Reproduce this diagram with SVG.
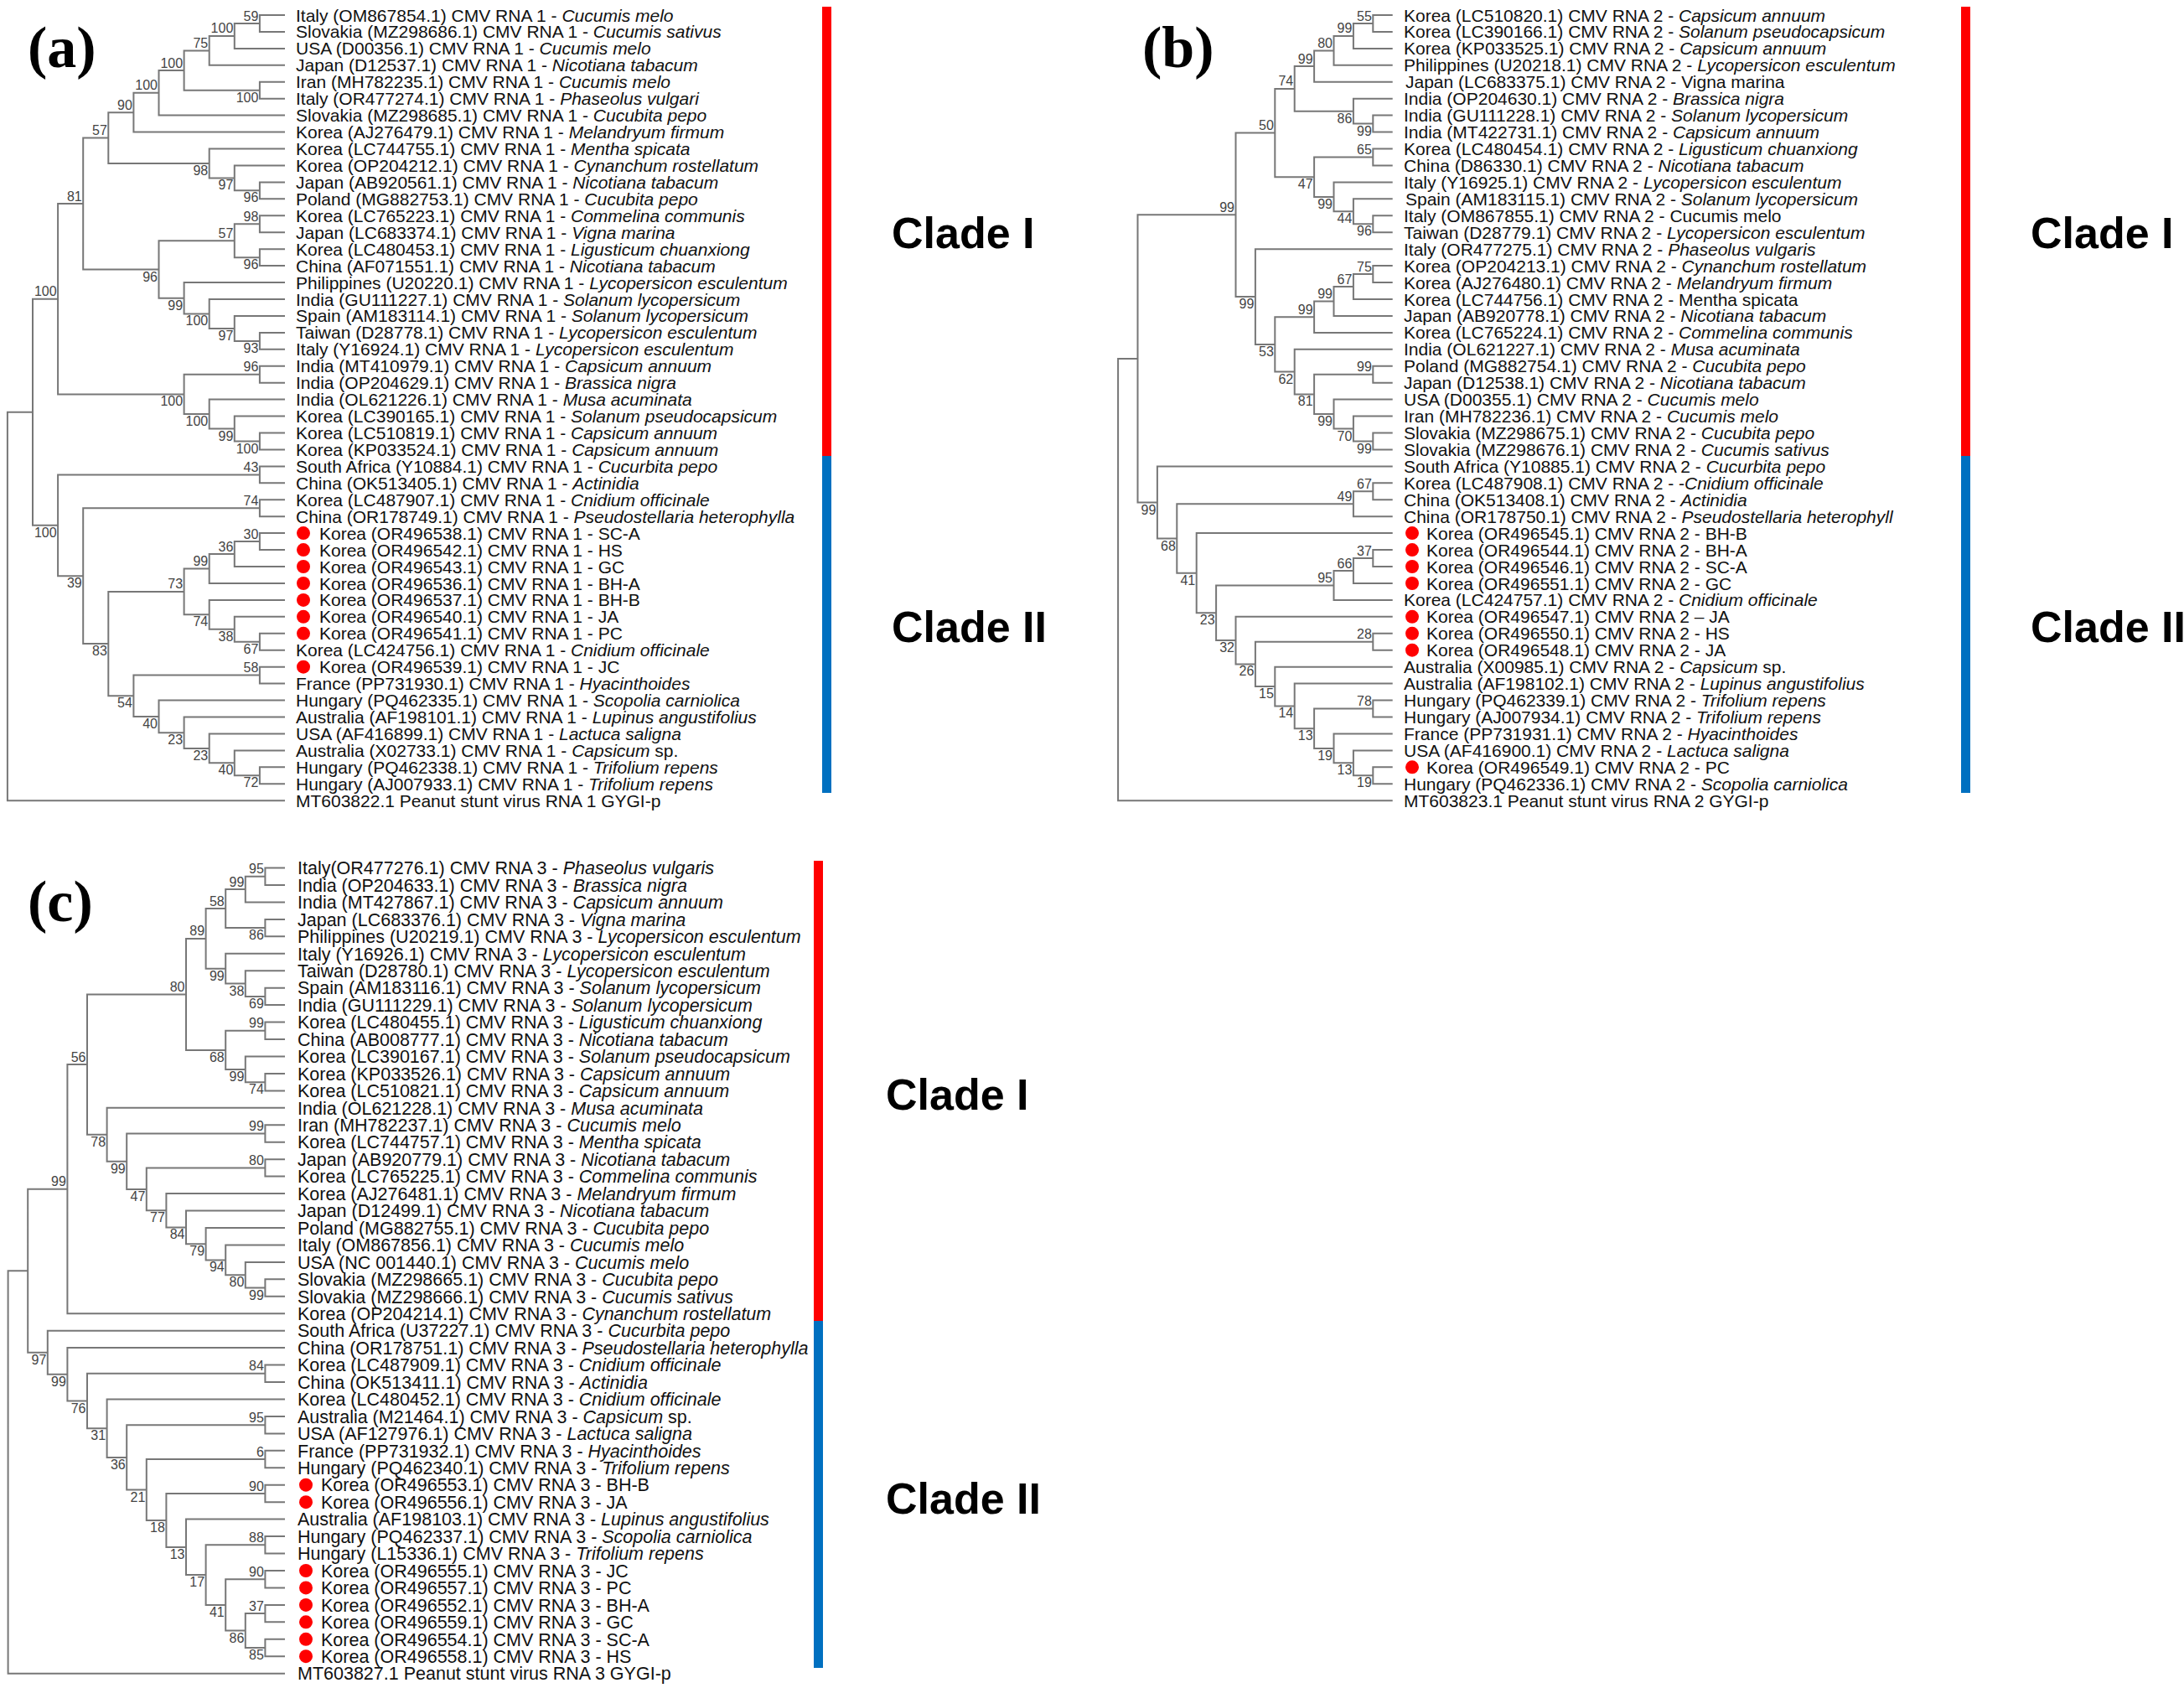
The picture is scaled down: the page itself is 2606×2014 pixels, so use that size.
<svg xmlns="http://www.w3.org/2000/svg" width="2606" height="2014" viewBox="0 0 2606 2014">
<style>
text{font-family:"Liberation Sans",Arial,sans-serif;fill:#111}
.t{font-size:21px}
.tc{font-size:21.5px}
.i{font-style:italic}
.bs{font-size:16px;fill:#444;text-anchor:end}
.pl{font-family:"Liberation Serif","Times New Roman",serif;font-weight:bold;font-size:70px;fill:#000}
.cl{font-weight:bold;font-size:52px;fill:#000}
.tree{fill:none;stroke:#777;stroke-width:2}
.dot{fill:#f00}
</style>
<rect width="2606" height="2014" fill="#fff"/>

<!-- panel labels -->
<text class="pl" x="33" y="80">(a)</text>
<text class="pl" x="1363" y="80">(b)</text>
<text class="pl" x="33" y="1099">(c)</text>

<!-- clade bars -->
<g id="bars">
<rect x="981" y="8" width="11" height="536" fill="#f00"/>
<rect x="981" y="544" width="11" height="402" fill="#0070c0"/>
<rect x="2340" y="8" width="11" height="536" fill="#f00"/>
<rect x="2340" y="544" width="11" height="402" fill="#0070c0"/>
<rect x="971" y="1027" width="11" height="549" fill="#f00"/>
<rect x="971" y="1576" width="11" height="414" fill="#0070c0"/>
</g>
<g id="clades">
<text class="cl" x="1064" y="296">Clade I</text>
<text class="cl" x="1064" y="766">Clade II</text>
<text class="cl" x="2423" y="296">Clade I</text>
<text class="cl" x="2423" y="766">Clade II</text>
<text class="cl" x="1057" y="1324">Clade I</text>
<text class="cl" x="1057" y="1806">Clade II</text>
</g>

<!-- connectors -->
<g id="connectors" class="tree">
<path id="tree-a" d="M340 18H309.9V37.9H340M309.9 28H279.8V57.9H340M279.8 42.9H249.7V77.8H340M340 97.8H309.9V117.7H340M249.7 60.4H219.6V107.7H309.9M219.6 84H189.5V137.6H340M189.5 110.8H159.4V157.6H340M340 217.4H309.9V237.3H340M340 197.5H279.8V227.3H309.9M340 177.5H249.7V212.4H279.8M159.4 134.2H129.3V195H249.7M340 257.3H309.9V277.2H340M340 297.2H309.9V317.1H340M309.9 267.3H279.8V307.2H309.9M340 396.9H309.9V416.8H340M340 376.9H279.8V406.9H309.9M340 357H249.7V391.9H279.8M340 337H219.6V374.4H249.7M279.8 287.2H189.5V355.7H219.6M129.3 164.6H99.2V321.5H189.5M340 436.7H309.9V456.7H340M340 516.5H309.9V536.4H340M340 496.6H279.8V526.5H309.9M340 476.6H249.7V511.5H279.8M309.9 446.7H219.6V494.1H249.7M99.2 243H69.1V470.4H219.6M340 556.4H309.9V576.3H340M340 596.3H309.9V616.2H340M340 636.1H309.9V656.1H340M309.9 646.1H279.8V676H340M279.8 661.1H249.7V696H340M340 755.8H309.9V775.7H340M340 735.8H279.8V765.8H309.9M340 715.9H249.7V750.8H279.8M249.7 678.5H219.6V733.3H249.7M340 795.7H309.9V815.6H340M340 915.3H309.9V935.2H340M340 895.4H279.8V925.2H309.9M340 875.4H249.7V910.3H279.8M340 855.5H219.6V892.9H249.7M340 835.5H189.5V874.2H219.6M309.9 805.6H159.4V854.9H189.5M219.6 705.9H129.3V830.3H159.4M309.9 606.3H99.2V768.1H129.3M309.9 566.4H69.1V687.2H99.2M69.1 356.7H39V626.8H69.1M39 491.8H8.9V955.2H340"/>
<path id="tree-b" d="M1661.7 18H1638.3V37.9H1661.7M1638.3 28H1614.9V57.9H1661.7M1614.9 42.9H1591.5V77.8H1661.7M1591.5 60.4H1568.1V97.8H1661.7M1661.7 137.6H1638.3V157.6H1661.7M1661.7 117.7H1614.9V147.6H1638.3M1568.1 79.1H1544.7V132.7H1614.9M1661.7 177.5H1638.3V197.5H1661.7M1661.7 257.3H1638.3V277.2H1661.7M1661.7 237.3H1614.9V267.3H1638.3M1661.7 217.4H1591.5V252.3H1614.9M1638.3 187.5H1568.1V234.9H1591.5M1544.7 105.9H1521.3V211.2H1568.1M1661.7 317.1H1638.3V337H1661.7M1638.3 327.1H1614.9V357H1661.7M1614.9 342H1591.5V376.9H1661.7M1591.5 359.5H1568.1V396.9H1661.7M1661.7 436.7H1638.3V456.7H1661.7M1661.7 516.5H1638.3V536.4H1661.7M1661.7 496.6H1614.9V526.5H1638.3M1661.7 476.6H1591.5V511.5H1614.9M1638.3 446.7H1568.1V494.1H1591.5M1661.7 416.8H1544.7V470.4H1568.1M1568.1 378.2H1521.3V443.6H1544.7M1661.7 297.2H1497.9V410.9H1521.3M1521.3 158.6H1474.5V354.1H1497.9M1661.7 576.3H1638.3V596.3H1661.7M1638.3 586.3H1614.9V616.2H1661.7M1661.7 656.1H1638.3V676H1661.7M1638.3 666.1H1614.9V696H1661.7M1614.9 681H1591.5V715.9H1661.7M1661.7 755.8H1638.3V775.7H1661.7M1661.7 835.5H1638.3V855.5H1661.7M1661.7 915.3H1638.3V935.2H1661.7M1661.7 895.4H1614.9V925.3H1638.3M1661.7 875.4H1591.5V910.3H1614.9M1638.3 845.5H1568.1V892.9H1591.5M1661.7 815.6H1544.7V869.2H1568.1M1661.7 795.7H1521.3V842.4H1544.7M1638.3 765.8H1497.9V819H1521.3M1661.7 735.8H1474.5V792.4H1497.9M1591.5 698.5H1451.1V764.1H1474.5M1661.7 636.1H1427.7V731.3H1451.1M1614.9 601.3H1404.3V683.7H1427.7M1661.7 556.4H1380.9V642.5H1404.3M1474.5 256.3H1357.5V599.5H1380.9M1357.5 427.9H1334.1V955.2H1661.7"/>
<path id="tree-c" d="M340 1035.5H316.4V1056H340M316.4 1045.75H292.8V1076.4H340M340 1096.9H316.4V1117.3H340M292.8 1061.1H269.2V1107.1H316.4M340 1178.7H316.4V1199.1H340M340 1158.2H292.8V1188.9H316.4M340 1137.8H269.2V1173.6H292.8M269.2 1084.1H245.6V1155.7H269.2M340 1219.6H316.4V1240H340M340 1280.9H316.4V1301.4H340M340 1260.5H292.8V1291.2H316.4M316.4 1229.8H269.2V1275.9H292.8M245.6 1119.9H222V1252.9H269.2M340 1342.3H316.4V1362.7H340M340 1383.2H316.4V1403.6H340M340 1526.3H316.4V1546.8H340M340 1505.9H292.8V1536.6H316.4M340 1485.4H269.2V1521.3H292.8M340 1465H245.6V1503.4H269.2M340 1444.5H222V1484.2H245.6M340 1424.1H198.4V1464.4H222M316.4 1393.4H174.8V1444.3H198.4M316.4 1352.5H151.2V1418.9H174.8M340 1321.8H127.6V1385.7H151.2M222 1186.4H104V1353.8H127.6M104 1270.1H80.4V1567.2H340M340 1628.6H316.4V1649H340M340 1689.9H316.4V1710.4H340M340 1730.8H316.4V1751.3H340M340 1771.7H316.4V1792.2H340M340 1833.1H316.4V1853.5H340M340 1874H316.4V1894.4H340M340 1914.9H316.4V1935.3H340M340 1955.8H316.4V1976.2H340M316.4 1925.1H292.8V1966H316.4M316.4 1884.2H269.2V1945.6H292.8M316.4 1843.3H245.6V1914.9H269.2M340 1812.6H222V1879.1H245.6M316.4 1782H198.4V1845.9H222M316.4 1741.1H174.8V1814H198.4M316.4 1700.2H151.2V1777.6H174.8M340 1669.5H127.6V1738.9H151.2M316.4 1638.8H104V1704.2H127.6M340 1608.1H80.4V1671.5H104M340 1587.7H56.8V1639.8H80.4M80.4 1418.7H33.2V1613.8H56.8M33.2 1516.3H9.6V1996.7H340"/>
</g>

<!-- bootstrap values -->
<g id="bootstrap-a">
<text class="bs" x="308.4" y="24.5">59</text>
<text class="bs" x="278.3" y="39.4">100</text>
<text class="bs" x="248.2" y="56.9">75</text>
<text class="bs" x="308.4" y="121.7">100</text>
<text class="bs" x="218.1" y="80.5">100</text>
<text class="bs" x="188" y="107.3">100</text>
<text class="bs" x="157.9" y="130.7">90</text>
<text class="bs" x="308.4" y="241.3">96</text>
<text class="bs" x="278.3" y="226.4">97</text>
<text class="bs" x="248.2" y="209">98</text>
<text class="bs" x="127.8" y="161.1">57</text>
<text class="bs" x="308.4" y="263.8">98</text>
<text class="bs" x="308.4" y="321.2">96</text>
<text class="bs" x="278.3" y="283.7">57</text>
<text class="bs" x="308.4" y="420.9">93</text>
<text class="bs" x="278.3" y="405.9">97</text>
<text class="bs" x="248.2" y="388.4">100</text>
<text class="bs" x="218.1" y="369.7">99</text>
<text class="bs" x="188" y="335.5">96</text>
<text class="bs" x="97.7" y="239.5">81</text>
<text class="bs" x="308.4" y="443.2">96</text>
<text class="bs" x="308.4" y="540.5">100</text>
<text class="bs" x="278.3" y="525.5">99</text>
<text class="bs" x="248.2" y="508.1">100</text>
<text class="bs" x="218.1" y="484.4">100</text>
<text class="bs" x="67.6" y="353.2">100</text>
<text class="bs" x="308.4" y="562.9">43</text>
<text class="bs" x="308.4" y="602.8">74</text>
<text class="bs" x="308.4" y="642.6">30</text>
<text class="bs" x="278.3" y="657.6">36</text>
<text class="bs" x="248.2" y="675">99</text>
<text class="bs" x="308.4" y="779.8">67</text>
<text class="bs" x="278.3" y="764.8">38</text>
<text class="bs" x="248.2" y="747.3">74</text>
<text class="bs" x="218.1" y="702.4">73</text>
<text class="bs" x="308.4" y="802.1">58</text>
<text class="bs" x="308.4" y="939.2">72</text>
<text class="bs" x="278.3" y="924.3">40</text>
<text class="bs" x="248.2" y="906.9">23</text>
<text class="bs" x="218.1" y="888.2">23</text>
<text class="bs" x="188" y="868.9">40</text>
<text class="bs" x="157.9" y="844.3">54</text>
<text class="bs" x="127.8" y="782.1">83</text>
<text class="bs" x="97.7" y="701.2">39</text>
<text class="bs" x="67.6" y="640.8">100</text>
</g>
<g id="bootstrap-b">
<text class="bs" x="1636.8" y="24.5">55</text>
<text class="bs" x="1613.4" y="39.4">99</text>
<text class="bs" x="1590" y="56.9">80</text>
<text class="bs" x="1566.6" y="75.6">99</text>
<text class="bs" x="1636.8" y="161.6">99</text>
<text class="bs" x="1613.4" y="146.7">86</text>
<text class="bs" x="1543.2" y="102.4">74</text>
<text class="bs" x="1636.8" y="184">65</text>
<text class="bs" x="1636.8" y="281.3">96</text>
<text class="bs" x="1613.4" y="266.3">44</text>
<text class="bs" x="1590" y="248.9">99</text>
<text class="bs" x="1566.6" y="225.2">47</text>
<text class="bs" x="1519.8" y="155.1">50</text>
<text class="bs" x="1636.8" y="323.6">75</text>
<text class="bs" x="1613.4" y="338.5">67</text>
<text class="bs" x="1590" y="356">99</text>
<text class="bs" x="1566.6" y="374.7">99</text>
<text class="bs" x="1636.8" y="443.2">99</text>
<text class="bs" x="1636.8" y="540.5">99</text>
<text class="bs" x="1613.4" y="525.5">70</text>
<text class="bs" x="1590" y="508.1">99</text>
<text class="bs" x="1566.6" y="484.4">81</text>
<text class="bs" x="1543.2" y="457.6">62</text>
<text class="bs" x="1519.8" y="424.9">53</text>
<text class="bs" x="1496.4" y="368.1">99</text>
<text class="bs" x="1473" y="252.8">99</text>
<text class="bs" x="1636.8" y="582.8">67</text>
<text class="bs" x="1613.4" y="597.8">49</text>
<text class="bs" x="1636.8" y="662.6">37</text>
<text class="bs" x="1613.4" y="677.5">66</text>
<text class="bs" x="1590" y="695">95</text>
<text class="bs" x="1636.8" y="762.3">28</text>
<text class="bs" x="1636.8" y="842">78</text>
<text class="bs" x="1636.8" y="939.3">19</text>
<text class="bs" x="1613.4" y="924.3">13</text>
<text class="bs" x="1590" y="906.9">19</text>
<text class="bs" x="1566.6" y="883.2">13</text>
<text class="bs" x="1543.2" y="856.4">14</text>
<text class="bs" x="1519.8" y="833">15</text>
<text class="bs" x="1496.4" y="806.4">26</text>
<text class="bs" x="1473" y="778.1">32</text>
<text class="bs" x="1449.6" y="745.3">23</text>
<text class="bs" x="1426.2" y="697.7">41</text>
<text class="bs" x="1402.8" y="656.5">68</text>
<text class="bs" x="1379.4" y="613.5">99</text>
</g>
<g id="bootstrap-c">
<text class="bs" x="314.9" y="1042.3">95</text>
<text class="bs" x="291.3" y="1057.6">99</text>
<text class="bs" x="314.9" y="1121.1">86</text>
<text class="bs" x="267.7" y="1080.6">58</text>
<text class="bs" x="314.9" y="1202.9">69</text>
<text class="bs" x="291.3" y="1187.6">38</text>
<text class="bs" x="267.7" y="1169.7">99</text>
<text class="bs" x="244.1" y="1116.4">89</text>
<text class="bs" x="314.9" y="1226.3">99</text>
<text class="bs" x="314.9" y="1305.2">74</text>
<text class="bs" x="291.3" y="1289.9">99</text>
<text class="bs" x="267.7" y="1266.9">68</text>
<text class="bs" x="220.5" y="1182.9">80</text>
<text class="bs" x="314.9" y="1349">99</text>
<text class="bs" x="314.9" y="1389.9">80</text>
<text class="bs" x="314.9" y="1550.6">99</text>
<text class="bs" x="291.3" y="1535.3">80</text>
<text class="bs" x="267.7" y="1517.4">94</text>
<text class="bs" x="244.1" y="1498.2">79</text>
<text class="bs" x="220.5" y="1478.4">84</text>
<text class="bs" x="196.9" y="1458.3">77</text>
<text class="bs" x="173.3" y="1432.9">47</text>
<text class="bs" x="149.7" y="1399.7">99</text>
<text class="bs" x="126.1" y="1367.8">78</text>
<text class="bs" x="102.5" y="1266.6">56</text>
<text class="bs" x="78.9" y="1415.2">99</text>
<text class="bs" x="314.9" y="1635.3">84</text>
<text class="bs" x="314.9" y="1696.7">95</text>
<text class="bs" x="314.9" y="1737.6">6</text>
<text class="bs" x="314.9" y="1778.5">90</text>
<text class="bs" x="314.9" y="1839.8">88</text>
<text class="bs" x="314.9" y="1880.7">90</text>
<text class="bs" x="314.9" y="1921.6">37</text>
<text class="bs" x="314.9" y="1980">85</text>
<text class="bs" x="291.3" y="1959.6">86</text>
<text class="bs" x="267.7" y="1928.9">41</text>
<text class="bs" x="244.1" y="1893.1">17</text>
<text class="bs" x="220.5" y="1859.9">13</text>
<text class="bs" x="196.9" y="1828">18</text>
<text class="bs" x="173.3" y="1791.6">21</text>
<text class="bs" x="149.7" y="1752.9">36</text>
<text class="bs" x="126.1" y="1718.2">31</text>
<text class="bs" x="102.5" y="1685.5">76</text>
<text class="bs" x="78.9" y="1653.8">99</text>
<text class="bs" x="55.3" y="1627.8">97</text>
</g>

<!-- panel (a) leaves -->
<g class="t">
<g id="a01"><text class="t" x="353" y="25.5">Italy (OM867854.1) CMV RNA 1 - <tspan class="i">Cucumis melo</tspan></text></g>
<g id="a02"><text class="t" x="353" y="45.4">Slovakia (MZ298686.1) CMV RNA 1 - <tspan class="i">Cucumis sativus</tspan></text></g>
<g id="a03"><text class="t" x="353" y="65.4">USA (D00356.1) CMV RNA 1 - <tspan class="i">Cucumis melo</tspan></text></g>
<g id="a04"><text class="t" x="353" y="85.3">Japan (D12537.1) CMV RNA 1 - <tspan class="i">Nicotiana tabacum</tspan></text></g>
<g id="a05"><text class="t" x="353" y="105.3">Iran (MH782235.1) CMV RNA 1 - <tspan class="i">Cucumis melo</tspan></text></g>
<g id="a06"><text class="t" x="353" y="125.2">Italy (OR477274.1) CMV RNA 1 - <tspan class="i">Phaseolus vulgari</tspan></text></g>
<g id="a07"><text class="t" x="353" y="145.1">Slovakia (MZ298685.1) CMV RNA 1 - <tspan class="i">Cucubita pepo</tspan></text></g>
<g id="a08"><text class="t" x="353" y="165.1">Korea (AJ276479.1) CMV RNA 1 - <tspan class="i">Melandryum firmum</tspan></text></g>
<g id="a09"><text class="t" x="353" y="185">Korea (LC744755.1) CMV RNA 1 - <tspan class="i">Mentha spicata</tspan></text></g>
<g id="a10"><text class="t" x="353" y="205">Korea (OP204212.1) CMV RNA 1 - <tspan class="i">Cynanchum rostellatum</tspan></text></g>
<g id="a11"><text class="t" x="353" y="224.9">Japan (AB920561.1) CMV RNA 1 - <tspan class="i">Nicotiana tabacum</tspan></text></g>
<g id="a12"><text class="t" x="353" y="244.8">Poland (MG882753.1) CMV RNA 1 - <tspan class="i">Cucubita pepo</tspan></text></g>
<g id="a13"><text class="t" x="353" y="264.8">Korea (LC765223.1) CMV RNA 1 - <tspan class="i">Commelina communis</tspan></text></g>
<g id="a14"><text class="t" x="353" y="284.7">Japan (LC683374.1) CMV RNA 1 - <tspan class="i">Vigna marina</tspan></text></g>
<g id="a15"><text class="t" x="353" y="304.7">Korea (LC480453.1) CMV RNA 1 - <tspan class="i">Ligusticum chuanxiong</tspan></text></g>
<g id="a16"><text class="t" x="353" y="324.6">China (AF071551.1) CMV RNA 1 - <tspan class="i">Nicotiana tabacum</tspan></text></g>
<g id="a17"><text class="t" x="353" y="344.5">Philippines (U20220.1) CMV RNA 1 - <tspan class="i">Lycopersicon esculentum</tspan></text></g>
<g id="a18"><text class="t" x="353" y="364.5">India (GU111227.1) CMV RNA 1 - <tspan class="i">Solanum lycopersicum</tspan></text></g>
<g id="a19"><text class="t" x="353" y="384.4">Spain (AM183114.1) CMV RNA 1 - <tspan class="i">Solanum lycopersicum</tspan></text></g>
<g id="a20"><text class="t" x="353" y="404.4">Taiwan (D28778.1) CMV RNA 1 - <tspan class="i">Lycopersicon esculentum</tspan></text></g>
<g id="a21"><text class="t" x="353" y="424.3">Italy (Y16924.1) CMV RNA 1 - <tspan class="i">Lycopersicon esculentum</tspan></text></g>
<g id="a22"><text class="t" x="353" y="444.2">India (MT410979.1) CMV RNA 1 - <tspan class="i">Capsicum annuum</tspan></text></g>
<g id="a23"><text class="t" x="353" y="464.2">India (OP204629.1) CMV RNA 1 - <tspan class="i">Brassica nigra</tspan></text></g>
<g id="a24"><text class="t" x="353" y="484.1">India (OL621226.1) CMV RNA 1 - <tspan class="i">Musa acuminata</tspan></text></g>
<g id="a25"><text class="t" x="353" y="504.1">Korea (LC390165.1) CMV RNA 1 - <tspan class="i">Solanum pseudocapsicum</tspan></text></g>
<g id="a26"><text class="t" x="353" y="524">Korea (LC510819.1) CMV RNA 1 - <tspan class="i">Capsicum annuum</tspan></text></g>
<g id="a27"><text class="t" x="353" y="543.9">Korea (KP033524.1) CMV RNA 1 - <tspan class="i">Capsicum annuum</tspan></text></g>
<g id="a28"><text class="t" x="353" y="563.9">South Africa (Y10884.1) CMV RNA 1 - <tspan class="i">Cucurbita pepo</tspan></text></g>
<g id="a29"><text class="t" x="353" y="583.8">China (OK513405.1) CMV RNA 1 - <tspan class="i">Actinidia</tspan></text></g>
<g id="a30"><text class="t" x="353" y="603.8">Korea (LC487907.1) CMV RNA 1 - <tspan class="i">Cnidium officinale</tspan></text></g>
<g id="a31"><text class="t" x="353" y="623.7">China (OR178749.1) CMV RNA 1 - <tspan class="i">Pseudostellaria heterophylla</tspan></text></g>
<g id="a32"><circle class="dot" cx="362" cy="636.1" r="8"/><text class="t" x="381" y="643.6">Korea (OR496538.1) CMV RNA 1 - SC-A</text></g>
<g id="a33"><circle class="dot" cx="362" cy="656.1" r="8"/><text class="t" x="381" y="663.6">Korea (OR496542.1) CMV RNA 1 - HS</text></g>
<g id="a34"><circle class="dot" cx="362" cy="676" r="8"/><text class="t" x="381" y="683.5">Korea (OR496543.1) CMV RNA 1 - GC</text></g>
<g id="a35"><circle class="dot" cx="362" cy="696" r="8"/><text class="t" x="381" y="703.5">Korea (OR496536.1) CMV RNA 1 - BH-A</text></g>
<g id="a36"><circle class="dot" cx="362" cy="715.9" r="8"/><text class="t" x="381" y="723.4">Korea (OR496537.1) CMV RNA 1 - BH-B</text></g>
<g id="a37"><circle class="dot" cx="362" cy="735.8" r="8"/><text class="t" x="381" y="743.3">Korea (OR496540.1) CMV RNA 1 - JA</text></g>
<g id="a38"><circle class="dot" cx="362" cy="755.8" r="8"/><text class="t" x="381" y="763.3">Korea (OR496541.1) CMV RNA 1 - PC</text></g>
<g id="a39"><text class="t" x="353" y="783.2">Korea (LC424756.1) CMV RNA 1 - <tspan class="i">Cnidium officinale</tspan></text></g>
<g id="a40"><circle class="dot" cx="362" cy="795.7" r="8"/><text class="t" x="381" y="803.2">Korea (OR496539.1) CMV RNA 1 - JC</text></g>
<g id="a41"><text class="t" x="353" y="823.1">France (PP731930.1) CMV RNA 1 - <tspan class="i">Hyacinthoides</tspan></text></g>
<g id="a42"><text class="t" x="353" y="843">Hungary (PQ462335.1) CMV RNA 1 - <tspan class="i">Scopolia carniolica</tspan></text></g>
<g id="a43"><text class="t" x="353" y="863">Australia (AF198101.1) CMV RNA 1 - <tspan class="i">Lupinus angustifolius</tspan></text></g>
<g id="a44"><text class="t" x="353" y="882.9">USA (AF416899.1) CMV RNA 1 - <tspan class="i">Lactuca saligna</tspan></text></g>
<g id="a45"><text class="t" x="353" y="902.9">Australia (X02733.1) CMV RNA 1 - <tspan class="i">Capsicum</tspan> sp.</text></g>
<g id="a46"><text class="t" x="353" y="922.8">Hungary (PQ462338.1) CMV RNA 1 - <tspan class="i">Trifolium repens</tspan></text></g>
<g id="a47"><text class="t" x="353" y="942.7">Hungary (AJ007933.1) CMV RNA 1 - <tspan class="i">Trifolium repens</tspan></text></g>
<g id="a48"><text class="t" x="353" y="962.7">MT603822.1 Peanut stunt virus RNA 1 GYGI-p</text></g>
</g>

<!-- panel (b) leaves -->
<g>
<g id="b01"><text class="t" x="1675" y="25.5">Korea (LC510820.1) CMV RNA 2 - <tspan class="i">Capsicum annuum</tspan></text></g>
<g id="b02"><text class="t" x="1675" y="45.4">Korea (LC390166.1) CMV RNA 2 - <tspan class="i">Solanum pseudocapsicum</tspan></text></g>
<g id="b03"><text class="t" x="1675" y="65.4">Korea (KP033525.1) CMV RNA 2 - <tspan class="i">Capsicum annuum</tspan></text></g>
<g id="b04"><text class="t" x="1675" y="85.3">Philippines (U20218.1) CMV RNA 2 - <tspan class="i">Lycopersicon esculentum</tspan></text></g>
<g id="b05"><text class="t" x="1677" y="105.3">Japan (LC683375.1) CMV RNA 2 - Vigna marina</text></g>
<g id="b06"><text class="t" x="1675" y="125.2">India (OP204630.1) CMV RNA 2 - <tspan class="i">Brassica nigra</tspan></text></g>
<g id="b07"><text class="t" x="1675" y="145.1">India (GU111228.1) CMV RNA 2 - <tspan class="i">Solanum lycopersicum</tspan></text></g>
<g id="b08"><text class="t" x="1675" y="165.1">India (MT422731.1) CMV RNA 2 - <tspan class="i">Capsicum annuum</tspan></text></g>
<g id="b09"><text class="t" x="1675" y="185">Korea (LC480454.1) CMV RNA 2 - <tspan class="i">Ligusticum chuanxiong</tspan></text></g>
<g id="b10"><text class="t" x="1675" y="205">China (D86330.1) CMV RNA 2 - <tspan class="i">Nicotiana tabacum</tspan></text></g>
<g id="b11"><text class="t" x="1675" y="224.9">Italy (Y16925.1) CMV RNA 2 - <tspan class="i">Lycopersicon esculentum</tspan></text></g>
<g id="b12"><text class="t" x="1677" y="244.8">Spain (AM183115.1) CMV RNA 2 - <tspan class="i">Solanum lycopersicum</tspan></text></g>
<g id="b13"><text class="t" x="1675" y="264.8">Italy (OM867855.1) CMV RNA 2 - Cucumis melo</text></g>
<g id="b14"><text class="t" x="1675" y="284.7">Taiwan (D28779.1) CMV RNA 2 - <tspan class="i">Lycopersicon esculentum</tspan></text></g>
<g id="b15"><text class="t" x="1675" y="304.7">Italy (OR477275.1) CMV RNA 2 - <tspan class="i">Phaseolus vulgaris</tspan></text></g>
<g id="b16"><text class="t" x="1675" y="324.6">Korea (OP204213.1) CMV RNA 2 - <tspan class="i">Cynanchum rostellatum</tspan></text></g>
<g id="b17"><text class="t" x="1675" y="344.5">Korea (AJ276480.1) CMV RNA 2 - <tspan class="i">Melandryum firmum</tspan></text></g>
<g id="b18"><text class="t" x="1675" y="364.5">Korea (LC744756.1) CMV RNA 2 - Mentha spicata</text></g>
<g id="b19"><text class="t" x="1675" y="384.4">Japan (AB920778.1) CMV RNA 2 - <tspan class="i">Nicotiana tabacum</tspan></text></g>
<g id="b20"><text class="t" x="1675" y="404.4">Korea (LC765224.1) CMV RNA 2 - <tspan class="i">Commelina communis</tspan></text></g>
<g id="b21"><text class="t" x="1675" y="424.3">India (OL621227.1) CMV RNA 2 - <tspan class="i">Musa acuminata</tspan></text></g>
<g id="b22"><text class="t" x="1675" y="444.2">Poland (MG882754.1) CMV RNA 2 - <tspan class="i">Cucubita pepo</tspan></text></g>
<g id="b23"><text class="t" x="1675" y="464.2">Japan (D12538.1) CMV RNA 2 - <tspan class="i">Nicotiana tabacum</tspan></text></g>
<g id="b24"><text class="t" x="1675" y="484.1">USA (D00355.1) CMV RNA 2 - <tspan class="i">Cucumis melo</tspan></text></g>
<g id="b25"><text class="t" x="1675" y="504.1">Iran (MH782236.1) CMV RNA 2 - <tspan class="i">Cucumis melo</tspan></text></g>
<g id="b26"><text class="t" x="1675" y="524">Slovakia (MZ298675.1) CMV RNA 2 - <tspan class="i">Cucubita pepo</tspan></text></g>
<g id="b27"><text class="t" x="1675" y="543.9">Slovakia (MZ298676.1) CMV RNA 2 - <tspan class="i">Cucumis sativus</tspan></text></g>
<g id="b28"><text class="t" x="1675" y="563.9">South Africa (Y10885.1) CMV RNA 2 - <tspan class="i">Cucurbita pepo</tspan></text></g>
<g id="b29"><text class="t" x="1675" y="583.8">Korea (LC487908.1) CMV RNA 2 - -<tspan class="i">Cnidium officinale</tspan></text></g>
<g id="b30"><text class="t" x="1675" y="603.8">China (OK513408.1) CMV RNA 2 - <tspan class="i">Actinidia</tspan></text></g>
<g id="b31"><text class="t" x="1675" y="623.7">China (OR178750.1) CMV RNA 2 - <tspan class="i">Pseudostellaria heterophyll</tspan></text></g>
<g id="b32"><circle class="dot" cx="1685" cy="636.1" r="8"/><text class="t" x="1702" y="643.6">Korea (OR496545.1) CMV RNA 2 - BH-B</text></g>
<g id="b33"><circle class="dot" cx="1685" cy="656.1" r="8"/><text class="t" x="1702" y="663.6">Korea (OR496544.1) CMV RNA 2 - BH-A</text></g>
<g id="b34"><circle class="dot" cx="1685" cy="676" r="8"/><text class="t" x="1702" y="683.5">Korea (OR496546.1) CMV RNA 2 - SC-A</text></g>
<g id="b35"><circle class="dot" cx="1685" cy="696" r="8"/><text class="t" x="1702" y="703.5">Korea (OR496551.1) CMV RNA 2 - GC</text></g>
<g id="b36"><text class="t" x="1675" y="723.4">Korea (LC424757.1) CMV RNA 2 - <tspan class="i">Cnidium officinale</tspan></text></g>
<g id="b37"><circle class="dot" cx="1685" cy="735.8" r="8"/><text class="t" x="1702" y="743.3">Korea (OR496547.1) CMV RNA 2 – JA</text></g>
<g id="b38"><circle class="dot" cx="1685" cy="755.8" r="8"/><text class="t" x="1702" y="763.3">Korea (OR496550.1) CMV RNA 2 - HS</text></g>
<g id="b39"><circle class="dot" cx="1685" cy="775.7" r="8"/><text class="t" x="1702" y="783.2">Korea (OR496548.1) CMV RNA 2 - JA</text></g>
<g id="b40"><text class="t" x="1675" y="803.2">Australia (X00985.1) CMV RNA 2 - <tspan class="i">Capsicum</tspan> sp.</text></g>
<g id="b41"><text class="t" x="1675" y="823.1">Australia (AF198102.1) CMV RNA 2 - <tspan class="i">Lupinus angustifolius</tspan></text></g>
<g id="b42"><text class="t" x="1675" y="843">Hungary (PQ462339.1) CMV RNA 2 - <tspan class="i">Trifolium repens</tspan></text></g>
<g id="b43"><text class="t" x="1675" y="863">Hungary (AJ007934.1) CMV RNA 2 - <tspan class="i">Trifolium repens</tspan></text></g>
<g id="b44"><text class="t" x="1675" y="882.9">France (PP731931.1) CMV RNA 2 - <tspan class="i">Hyacinthoides</tspan></text></g>
<g id="b45"><text class="t" x="1675" y="902.9">USA (AF416900.1) CMV RNA 2 - <tspan class="i">Lactuca saligna</tspan></text></g>
<g id="b46"><circle class="dot" cx="1685" cy="915.3" r="8"/><text class="t" x="1702" y="922.8">Korea (OR496549.1) CMV RNA 2 - PC</text></g>
<g id="b47"><text class="t" x="1675" y="942.7">Hungary (PQ462336.1) CMV RNA 2 - <tspan class="i">Scopolia carniolica</tspan></text></g>
<g id="b48"><text class="t" x="1675" y="962.7">MT603823.1 Peanut stunt virus RNA 2 GYGI-p</text></g>
</g>

<!-- panel (c) leaves -->
<g>
<g id="c01"><text class="tc" x="355" y="1043.2">Italy(OR477276.1) CMV RNA 3 - <tspan class="i">Phaseolus vulgaris</tspan></text></g>
<g id="c02"><text class="tc" x="355" y="1063.7">India (OP204633.1) CMV RNA 3 - <tspan class="i">Brassica nigra</tspan></text></g>
<g id="c03"><text class="tc" x="355" y="1084.1">India (MT427867.1) CMV RNA 3 - <tspan class="i">Capsicum annuum</tspan></text></g>
<g id="c04"><text class="tc" x="355" y="1104.6">Japan (LC683376.1) CMV RNA 3 - <tspan class="i">Vigna marina</tspan></text></g>
<g id="c05"><text class="tc" x="355" y="1125">Philippines (U20219.1) CMV RNA 3 - <tspan class="i">Lycopersicon esculentum</tspan></text></g>
<g id="c06"><text class="tc" x="355" y="1145.5">Italy (Y16926.1) CMV RNA 3 - <tspan class="i">Lycopersicon esculentum</tspan></text></g>
<g id="c07"><text class="tc" x="355" y="1165.9">Taiwan (D28780.1) CMV RNA 3 - <tspan class="i">Lycopersicon esculentum</tspan></text></g>
<g id="c08"><text class="tc" x="355" y="1186.4">Spain (AM183116.1) CMV RNA 3 - <tspan class="i">Solanum lycopersicum</tspan></text></g>
<g id="c09"><text class="tc" x="355" y="1206.8">India (GU111229.1) CMV RNA 3 - <tspan class="i">Solanum lycopersicum</tspan></text></g>
<g id="c10"><text class="tc" x="355" y="1227.3">Korea (LC480455.1) CMV RNA 3 - <tspan class="i">Ligusticum chuanxiong</tspan></text></g>
<g id="c11"><text class="tc" x="355" y="1247.7">China (AB008777.1) CMV RNA 3 - <tspan class="i">Nicotiana tabacum</tspan></text></g>
<g id="c12"><text class="tc" x="355" y="1268.2">Korea (LC390167.1) CMV RNA 3 - <tspan class="i">Solanum pseudocapsicum</tspan></text></g>
<g id="c13"><text class="tc" x="355" y="1288.6">Korea (KP033526.1) CMV RNA 3 - <tspan class="i">Capsicum annuum</tspan></text></g>
<g id="c14"><text class="tc" x="355" y="1309.1">Korea (LC510821.1) CMV RNA 3 - <tspan class="i">Capsicum annuum</tspan></text></g>
<g id="c15"><text class="tc" x="355" y="1329.5">India (OL621228.1) CMV RNA 3 - <tspan class="i">Musa acuminata</tspan></text></g>
<g id="c16"><text class="tc" x="355" y="1350">Iran (MH782237.1) CMV RNA 3 - <tspan class="i">Cucumis melo</tspan></text></g>
<g id="c17"><text class="tc" x="355" y="1370.4">Korea (LC744757.1) CMV RNA 3 - <tspan class="i">Mentha spicata</tspan></text></g>
<g id="c18"><text class="tc" x="355" y="1390.9">Japan (AB920779.1) CMV RNA 3 - <tspan class="i">Nicotiana tabacum</tspan></text></g>
<g id="c19"><text class="tc" x="355" y="1411.3">Korea (LC765225.1) CMV RNA 3 - <tspan class="i">Commelina communis</tspan></text></g>
<g id="c20"><text class="tc" x="355" y="1431.8">Korea (AJ276481.1) CMV RNA 3 - <tspan class="i">Melandryum firmum</tspan></text></g>
<g id="c21"><text class="tc" x="355" y="1452.2">Japan (D12499.1) CMV RNA 3 - <tspan class="i">Nicotiana tabacum</tspan></text></g>
<g id="c22"><text class="tc" x="355" y="1472.7">Poland (MG882755.1) CMV RNA 3 - <tspan class="i">Cucubita pepo</tspan></text></g>
<g id="c23"><text class="tc" x="355" y="1493.1">Italy (OM867856.1) CMV RNA 3 - <tspan class="i">Cucumis melo</tspan></text></g>
<g id="c24"><text class="tc" x="355" y="1513.6">USA (NC 001440.1) CMV RNA 3 - <tspan class="i">Cucumis melo</tspan></text></g>
<g id="c25"><text class="tc" x="355" y="1534">Slovakia (MZ298665.1) CMV RNA 3 - <tspan class="i">Cucubita pepo</tspan></text></g>
<g id="c26"><text class="tc" x="355" y="1554.5">Slovakia (MZ298666.1) CMV RNA 3 - <tspan class="i">Cucumis sativus</tspan></text></g>
<g id="c27"><text class="tc" x="355" y="1574.9">Korea (OP204214.1) CMV RNA 3 - <tspan class="i">Cynanchum rostellatum</tspan></text></g>
<g id="c28"><text class="tc" x="355" y="1595.4">South Africa (U37227.1) CMV RNA 3 - <tspan class="i">Cucurbita pepo</tspan></text></g>
<g id="c29"><text class="tc" x="355" y="1615.8">China (OR178751.1) CMV RNA 3 - <tspan class="i">Pseudostellaria heterophylla</tspan></text></g>
<g id="c30"><text class="tc" x="355" y="1636.3">Korea (LC487909.1) CMV RNA 3 - <tspan class="i">Cnidium officinale</tspan></text></g>
<g id="c31"><text class="tc" x="355" y="1656.7">China (OK513411.1) CMV RNA 3 - <tspan class="i">Actinidia</tspan></text></g>
<g id="c32"><text class="tc" x="355" y="1677.2">Korea (LC480452.1) CMV RNA 3 - <tspan class="i">Cnidium officinale</tspan></text></g>
<g id="c33"><text class="tc" x="355" y="1697.6">Australia (M21464.1) CMV RNA 3 - <tspan class="i">Capsicum</tspan> sp.</text></g>
<g id="c34"><text class="tc" x="355" y="1718.1">USA (AF127976.1) CMV RNA 3 - <tspan class="i">Lactuca saligna</tspan></text></g>
<g id="c35"><text class="tc" x="355" y="1738.5">France (PP731932.1) CMV RNA 3 - <tspan class="i">Hyacinthoides</tspan></text></g>
<g id="c36"><text class="tc" x="355" y="1759">Hungary (PQ462340.1) CMV RNA 3 - <tspan class="i">Trifolium repens</tspan></text></g>
<g id="c37"><circle class="dot" cx="365" cy="1771.7" r="8"/><text class="tc" x="383" y="1779.4">Korea (OR496553.1) CMV RNA 3 - BH-B</text></g>
<g id="c38"><circle class="dot" cx="365" cy="1792.2" r="8"/><text class="tc" x="383" y="1799.9">Korea (OR496556.1) CMV RNA 3 - JA</text></g>
<g id="c39"><text class="tc" x="355" y="1820.3">Australia (AF198103.1) CMV RNA 3 - <tspan class="i">Lupinus angustifolius</tspan></text></g>
<g id="c40"><text class="tc" x="355" y="1840.8">Hungary (PQ462337.1) CMV RNA 3 - <tspan class="i">Scopolia carniolica</tspan></text></g>
<g id="c41"><text class="tc" x="355" y="1861.2">Hungary (L15336.1) CMV RNA 3 - <tspan class="i">Trifolium repens</tspan></text></g>
<g id="c42"><circle class="dot" cx="365" cy="1874" r="8"/><text class="tc" x="383" y="1881.7">Korea (OR496555.1) CMV RNA 3 - JC</text></g>
<g id="c43"><circle class="dot" cx="365" cy="1894.4" r="8"/><text class="tc" x="383" y="1902.1">Korea (OR496557.1) CMV RNA 3 - PC</text></g>
<g id="c44"><circle class="dot" cx="365" cy="1914.9" r="8"/><text class="tc" x="383" y="1922.6">Korea (OR496552.1) CMV RNA 3 - BH-A</text></g>
<g id="c45"><circle class="dot" cx="365" cy="1935.3" r="8"/><text class="tc" x="383" y="1943">Korea (OR496559.1) CMV RNA 3 - GC</text></g>
<g id="c46"><circle class="dot" cx="365" cy="1955.8" r="8"/><text class="tc" x="383" y="1963.5">Korea (OR496554.1) CMV RNA 3 - SC-A</text></g>
<g id="c47"><circle class="dot" cx="365" cy="1976.2" r="8"/><text class="tc" x="383" y="1983.9">Korea (OR496558.1) CMV RNA 3 - HS</text></g>
<g id="c48"><text class="tc" x="355" y="2004.4">MT603827.1 Peanut stunt virus RNA 3 GYGI-p</text></g>
</g>
</svg>
